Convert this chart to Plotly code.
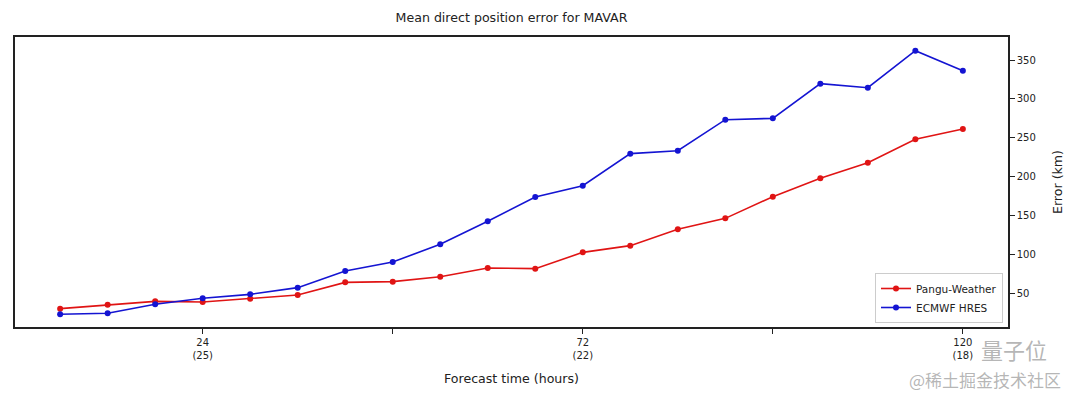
import plotly.graph_objects as go

hours = [6, 12, 18, 24, 30, 36, 42, 48, 54, 60, 66, 72, 78, 84, 90, 96, 102, 108, 114, 120]
pangu = [30.3, 35.4, 39.7, 38.9, 43.1, 47.9, 64.1, 65.0, 71.4, 82.6, 81.7,
         102.7, 111.3, 132.3, 146.4, 174.3, 197.9, 218.0, 248.0, 261.3]
ecmwf = [23.0, 24.3, 35.9, 43.6, 48.7, 57.3, 78.7, 90.3, 113.0, 142.6, 173.9,
         188.4, 229.6, 233.4, 273.3, 275.0, 319.6, 314.4, 362.0, 336.3]
x_tickvals = [24, 48, 72, 96, 120]
x_ticktext = ["24<br>(25)", "", "72<br>(22)", "", "120<br>(18)"]
y_tickvals = [50, 100, 150, 200, 250, 300, 350]

FONT = "DejaVu Sans"
W, H = 1080, 401
L, R, T, B = 15, 72, 37, 74
PW, PH = W - L - R, H - T - B


def px(xp):
    return (xp - L) / PW


def py(yp):
    return (H - B - yp) / PH


fig = go.Figure()
fig.add_trace(go.Scatter(x=hours, y=pangu, mode="lines+markers", name="Pangu-Weather",
                         line=dict(color="#e01414", width=1.6),
                         marker=dict(color="#e01414", size=6)))
fig.add_trace(go.Scatter(x=hours, y=ecmwf, mode="lines+markers", name="ECMWF HRES",
                         line=dict(color="#1414d2", width=1.6),
                         marker=dict(color="#1414d2", size=6)))

fig.update_layout(
    width=W, height=H,
    margin=dict(l=L, r=R, t=T, b=B),
    paper_bgcolor="white", plot_bgcolor="white",
    font=dict(family=FONT, size=10, color="#222"),
    title=dict(text="Mean direct position error for MAVAR", x=(L + W - R) / 2 / W,
               xanchor="center", y=1 - 18 / H, yanchor="middle",
               font=dict(family=FONT, size=12.6, color="#222")),
    showlegend=True,
    legend=dict(x=px(1003), y=py(323), xanchor="right", yanchor="bottom",
                bgcolor="white", bordercolor="#cccccc", borderwidth=1,
                font=dict(family=FONT, size=10.5, color="#222"),
                itemwidth=30, tracegroupgap=0),
)
fig.update_xaxes(
    range=[0.3, 125.7], tickvals=x_tickvals, ticktext=x_ticktext,
    ticks="outside", ticklen=5, tickwidth=1.2, tickcolor="#222",
    showgrid=False, zeroline=False, showline=True, linecolor="#222", linewidth=1.5,
    mirror=True, tickfont=dict(family=FONT, size=10, color="#222"),
    title=dict(text="Forecast time (hours)", font=dict(family=FONT, size=12.6, color="#222"),
               standoff=14),
)
fig.update_yaxes(
    range=[6.7, 379.6], tickvals=y_tickvals, side="right",
    ticks="outside", ticklen=5, tickwidth=1.2, tickcolor="#222",
    showgrid=False, zeroline=False, showline=True, linecolor="#222", linewidth=1.5,
    mirror=True, tickfont=dict(family=FONT, size=10, color="#222"),
    title=dict(text="Error (km)", font=dict(family=FONT, size=12.6, color="#222"),
               standoff=18),
)

# source watermark
fig.add_annotation(text="量子位", x=px(1014), y=py(349), xref="paper", yref="paper",
                   xanchor="center", yanchor="middle", showarrow=False,
                   font=dict(family="Noto Sans CJK SC", size=22, color="rgba(150,150,150,0.7)"))
fig.add_annotation(text="@稀土掘金技术社区", x=px(985), y=py(379), xref="paper", yref="paper",
                   xanchor="center", yanchor="middle", showarrow=False,
                   font=dict(family="Noto Sans CJK SC", size=17, color="rgba(150,150,150,0.7)"))

fig.write_html("out.html", config={"displayModeBar": False},
               post_script="document.body.style.margin='0';document.body.style.padding='0';")
